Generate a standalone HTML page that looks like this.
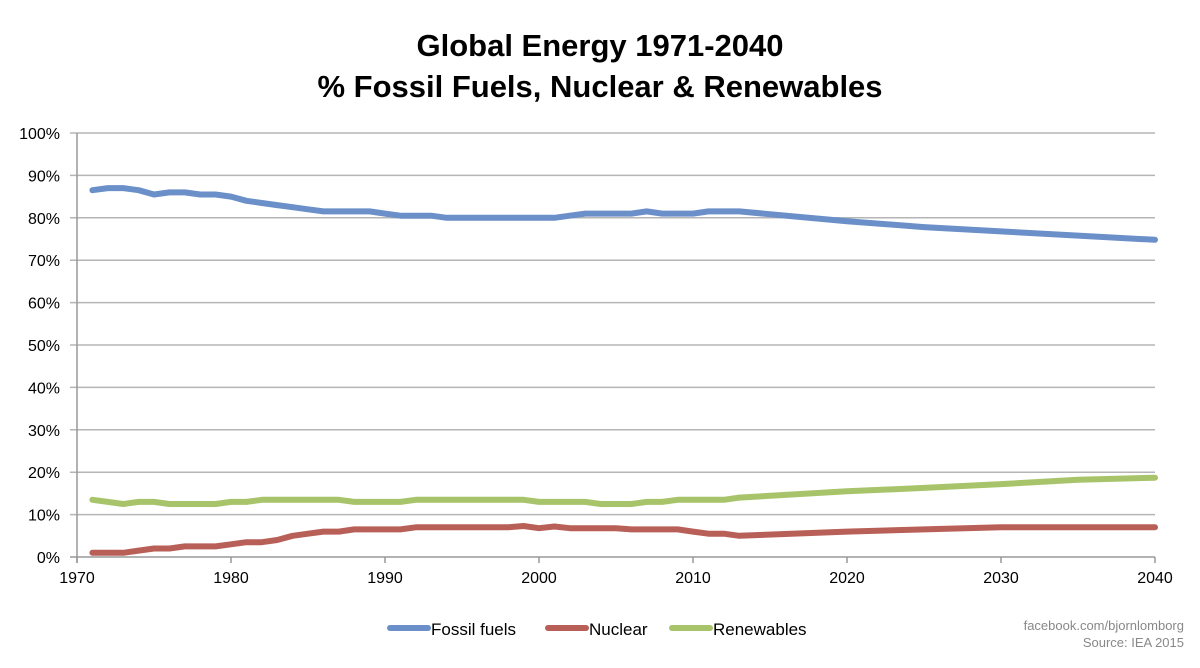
<!DOCTYPE html>
<html><head><meta charset="utf-8"><style>
body{margin:0;background:#fff;font-family:"Liberation Sans",sans-serif}
</style></head><body>
<svg id="c" width="1200" height="663" xmlns="http://www.w3.org/2000/svg">
<text x="600" y="56" text-anchor="middle" font-size="31" font-weight="bold">Global Energy 1971-2040</text>
<text x="600" y="97" text-anchor="middle" font-size="31" font-weight="bold">% Fossil Fuels, Nuclear &amp; Renewables</text>
<g id="grid"></g><g id="series"></g>
<g>
<line x1="390" y1="628" x2="428" y2="628" stroke="#6b8fc9" stroke-width="6" stroke-linecap="round"/>
<text x="431" y="635" font-size="17">Fossil fuels</text>
<line x1="548" y1="628" x2="586" y2="628" stroke="#b85f57" stroke-width="6" stroke-linecap="round"/>
<text x="589" y="635" font-size="17">Nuclear</text>
<line x1="672" y1="628" x2="710" y2="628" stroke="#a8c46a" stroke-width="6" stroke-linecap="round"/>
<text x="713" y="635" font-size="17">Renewables</text>
</g>
<text x="1184" y="630" text-anchor="end" font-size="13" fill="#888">facebook.com/bjornlomborg</text>
<text x="1184" y="647" text-anchor="end" font-size="13" fill="#888">Source: IEA 2015</text>
</svg>
<script>
const years=[1971,1972,1973,1974,1975,1976,1977,1978,1979,1980,1981,1982,1983,1984,1985,1986,1987,1988,1989,1990,1991,1992,1993,1994,1995,1996,1997,1998,1999,2000,2001,2002,2003,2004,2005,2006,2007,2008,2009,2010,2011,2012,2013,2020,2025,2030,2035,2040];
const fossil=[86.5,87,87,86.5,85.5,86,86,85.5,85.5,85,84,83.5,83,82.5,82,81.5,81.5,81.5,81.5,81,80.5,80.5,80.5,80,80,80,80,80,80,80,80,80.5,81,81,81,81,81.5,81,81,81,81.5,81.5,81.5,79.2,77.8,76.8,75.8,74.8];
const nuclear=[1,1,1,1.5,2,2,2.5,2.5,2.5,3,3.5,3.5,4,5,5.5,6,6,6.5,6.5,6.5,6.5,7,7,7,7,7,7,7,7.3,6.8,7.2,6.8,6.8,6.8,6.8,6.5,6.5,6.5,6.5,6,5.5,5.5,5,6,6.5,7,7,7];
const renew=[13.5,13,12.5,13,13,12.5,12.5,12.5,12.5,13,13,13.5,13.5,13.5,13.5,13.5,13.5,13,13,13,13,13.5,13.5,13.5,13.5,13.5,13.5,13.5,13.5,13,13,13,13,12.5,12.5,12.5,13,13,13.5,13.5,13.5,13.5,14,15.5,16.3,17.2,18.2,18.7];
const yTicks=[0,10,20,30,40,50,60,70,80,90,100];
const xTicks=[1970,1980,1990,2000,2010,2020,2030,2040];
const NS="http://www.w3.org/2000/svg";
const X=y=>77+(y-1970)*(1155-77)/70;
const Y=v=>557-v*4.24;
const grid=document.getElementById('grid'),ser=document.getElementById('series');
function mk(tag,at,p){const e=document.createElementNS(NS,tag);for(const k in at)e.setAttribute(k,at[k]);p.appendChild(e);return e;}
yTicks.forEach(t=>{
 const l=mk('line',{x1:70,x2:1155,y1:Y(t),y2:Y(t),stroke:t===0?'#999':'#b5b5b5','stroke-width':1.5},grid);
 
 
 const tx=mk('text',{x:60,y:Y(t)+6,'text-anchor':'end','font-size':16},grid);tx.textContent=t+'%';
 
 
});
const ax=mk('line',{x1:77,x2:77,y1:Y(100),y2:Y(0)+6,stroke:'#999','stroke-width':1.5},grid);


xTicks.forEach(t=>{
 mk('line',{x1:X(t),x2:X(t),y1:Y(0),y2:Y(0)+6,stroke:'#999','stroke-width':1.5},grid);
 const tx=mk('text',{x:X(t),y:Y(0)+26,'text-anchor':'middle','font-size':16},grid);tx.textContent=t;
 
 
});
[[fossil,'#6b8fc9','fossil-line'],[nuclear,'#b85f57','nuclear-line'],[renew,'#a8c46a','renewables-line']].forEach(([d,c,n])=>{
 const pts=years.map((y,i)=>X(y).toFixed(1)+','+Y(d[i]).toFixed(1)).join(' ');
 const p=mk('polyline',{points:pts,fill:'none',stroke:c,'stroke-width':6,'stroke-linecap':'round','stroke-linejoin':'round'},ser);
 
 
});
</script>
</body></html>
